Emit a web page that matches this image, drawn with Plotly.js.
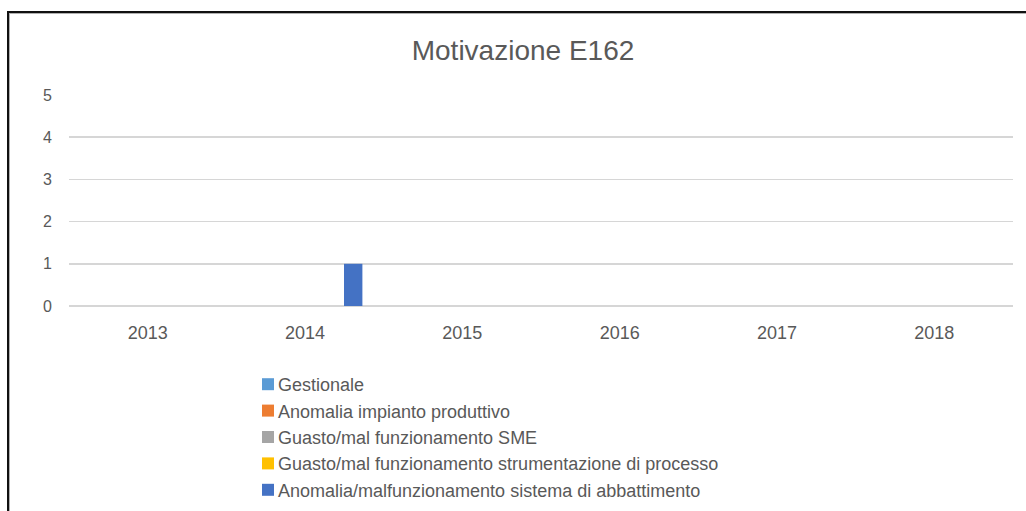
<!DOCTYPE html>
<html>
<head>
<meta charset="utf-8">
<script src="https://cdn.plot.ly/plotly-3.0.1.min.js"></script>
<style>
  html, body { margin: 0; padding: 0; background: #fff; overflow: hidden; }
  #wrap { position: relative; width: 1026px; height: 511px; }
  #chart { width: 1026px; height: 511px; }
  #frame { position: absolute; left: 7px; top: 11px; width: 1100px; height: 600px;
           border-top: 2px solid #111; border-left: 2px solid #111; pointer-events: none; }
  #frame2 { position: absolute; left: 9px; top: 13px; width: 1100px; height: 600px;
           border-top: 1px solid #b0b0b0; border-left: 1px solid #b0b0b0; pointer-events: none; }
</style>
</head>
<body>
<div id="wrap">
  <div id="chart"></div>
  <div id="frame"></div>
  <div id="frame2"></div>
</div>
<script>
// ---- data ----
const years = ['2013', '2014', '2015', '2016', '2017', '2018'];
const seriesNames = [
  'Gestionale',
  'Anomalia impianto produttivo',
  'Guasto/mal funzionamento SME',
  'Guasto/mal funzionamento strumentazione di processo',
  'Anomalia/malfunzionamento sistema di abbattimento'
];
const gestionale = [0, 0, 0, 0, 0, 0];
const anomaliaImpianto = [0, 0, 0, 0, 0, 0];
const guastoSME = [0, 0, 0, 0, 0, 0];
const guastoStrumentazione = [0, 0, 0, 0, 0, 0];
const anomaliaAbbattimento = [0, 1, 0, 0, 0, 0];
const seriesColors = ['#5B9BD5', '#ED7D31', '#A5A5A5', '#FFC000', '#4472C4'];
const yTicks = [0, 1, 2, 3, 4, 5];

const allSeries = [gestionale, anomaliaImpianto, guastoSME, guastoStrumentazione, anomaliaAbbattimento];
const FONT = 'Liberation Sans, Arial, sans-serif';
const TXT = '#595959';

const traces = allSeries.map((vals, i) => ({
  type: 'bar',
  name: seriesNames[i],
  x: years,
  y: vals,
  marker: { color: seriesColors[i], line: { width: 0 } },
  hoverinfo: 'x+y+name'
}));

const layout = {
  width: 1026,
  height: 511,
  margin: { l: 69, r: 13, t: 95, b: 205, autoexpand: false },
  paper_bgcolor: '#ffffff',
  plot_bgcolor: '#ffffff',
  font: { family: FONT, color: TXT },
  barmode: 'group',
  bargap: 0.234,
  bargroupgap: 0.237,
  title: {
    text: 'Motivazione E162',
    font: { family: FONT, size: 28, color: TXT },
    xref: 'container', x: 523 / 1026, xanchor: 'center',
    yref: 'container', y: 1 - 50 / 511, yanchor: 'middle'
  },
  xaxis: {
    type: 'category',
    showgrid: false,
    showline: false,
    zeroline: false,
    ticks: '',
    tickfont: { family: FONT, size: 18, color: TXT },
    ticklabelstandoff: 14,
    automargin: false
  },
  yaxis: {
    range: [0, 5],
    tickvals: yTicks,
    ticktext: yTicks.map(String),
    showgrid: true,
    gridcolor: '#d6d6d6',
    gridwidth: 1.5,
    zeroline: true,
    zerolinecolor: '#d6d6d6',
    zerolinewidth: 1.5,
    showline: false,
    ticks: '',
    tickfont: { family: FONT, size: 16, color: TXT },
    ticklabelstandoff: 16,
    automargin: false
  },
  showlegend: true,
  legend: {
    orientation: 'v',
    traceorder: 'normal',
    xref: 'container', x: 238 / 1026, xanchor: 'left',
    yref: 'container', y: 1 - 366 / 511, yanchor: 'top',
    font: { family: FONT, size: 18, color: TXT },
    bgcolor: 'rgba(0,0,0,0)',
    borderwidth: 0,
    tracegroupgap: 0
  }
};

Plotly.newPlot('chart', traces, layout, { displayModeBar: false, staticPlot: true }).then(() => {
  // bring legend swatches closer to their labels, as in the reference
  document.querySelectorAll('#chart .legend .legendpoints').forEach(g => {
    g.setAttribute('transform', 'translate(10,0)');
  });
});
</script>
</body>
</html>
